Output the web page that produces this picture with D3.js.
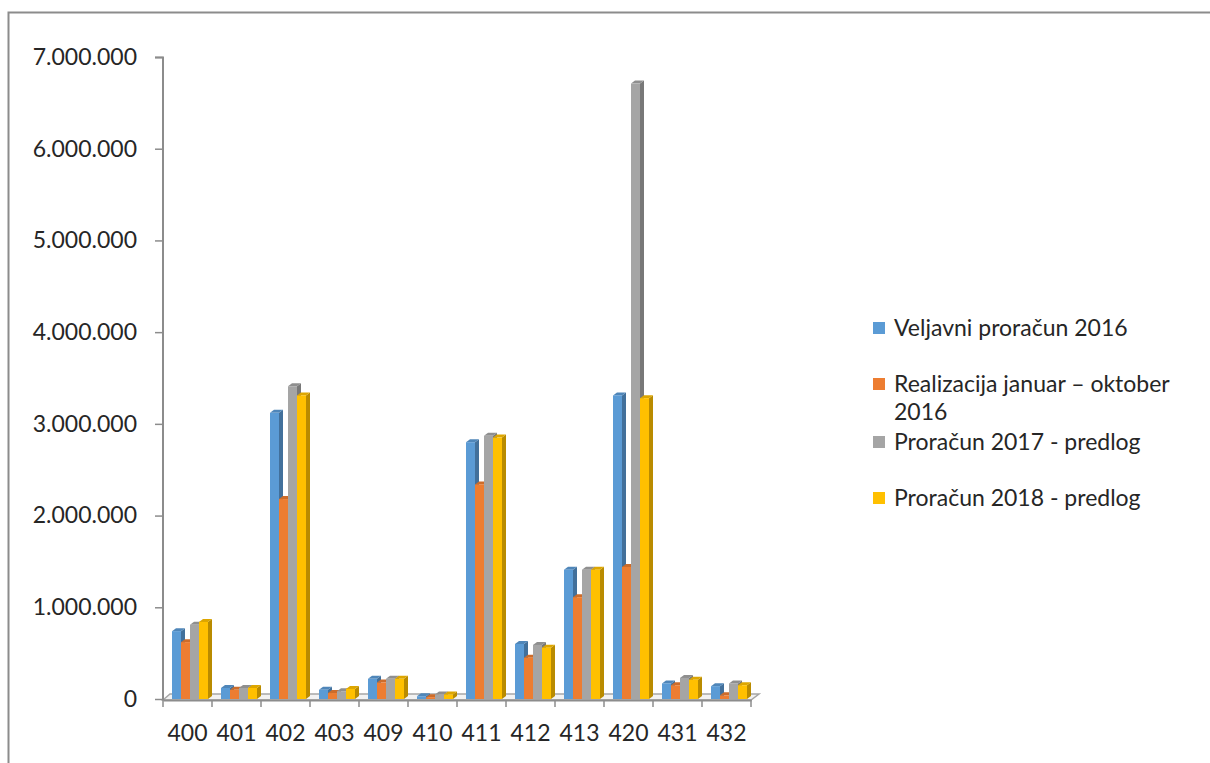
<!DOCTYPE html>
<html>
<head>
<meta charset="utf-8">
<script src="https://cdn.jsdelivr.net/npm/d3@7"></script>
<style>
  body { margin: 0; background: #fff; }
  text { font-family: Lato, "Open Sans", sans-serif; fill: #262626; }
</style>
</head>
<body>
<div class="viz"></div>
<script>
var categories = ["400", "401", "402", "403", "409", "410", "411", "412", "413", "420", "431", "432"];
var seriesNames = ["Veljavni proračun 2016", "Realizacija januar – oktober 2016", "Proračun 2017 - predlog", "Proračun 2018 - predlog"];
var veljavni2016 = [740000, 120000, 3120000, 100000, 220000, 30000, 2800000, 600000, 1410000, 3310000, 170000, 140000];
var realizacija2016 = [620000, 100000, 2180000, 65000, 180000, 20000, 2340000, 450000, 1110000, 1440000, 150000, 40000];
var proracun2017 = [810000, 120000, 3410000, 85000, 220000, 50000, 2870000, 590000, 1410000, 6710000, 230000, 170000];
var proracun2018 = [840000, 120000, 3310000, 110000, 220000, 50000, 2850000, 560000, 1410000, 3280000, 210000, 150000];
var yTicks = [0, 1000000, 2000000, 3000000, 4000000, 5000000, 6000000, 7000000];

var colors = ["#5B9BD5", "#ED7D31", "#A5A5A5", "#FFC000"];
var allSeries = [veljavni2016, realizacija2016, proracun2017, proracun2018];

var width = 1210, height = 763;
var depthX = 4, depthY = 3;

var svg = d3.select(".viz").append("svg")
    .attr("width", width)
    .attr("height", height);

// outer frame (only top and left visible)
svg.append("path")
    .attr("d", "M8.5,763 V12.5 H1210")
    .attr("fill", "none")
    .attr("stroke", "#8c8c8c")
    .attr("stroke-width", 2);

var nl = d3.formatLocale({decimal: ",", thousands: ".", grouping: [3], currency: ["", ""]});
var fmt = nl.format(",");

var x0 = d3.scaleBand().domain(categories).range([163, 751]);
var x1 = d3.scaleBand().domain(d3.range(4)).range([9, 45]);
var y = d3.scaleLinear().domain([0, 7000000]).range([699, 57]);

// floor
svg.append("path")
    .attr("d", "M163,700 L" + (163 + depthX + 3) + "," + (700 - depthY - 3) +
        " L" + (751 + depthX + 4) + "," + (700 - depthY - 3) + " L751,700 Z")
    .attr("fill", "#f2f2f2")
    .attr("stroke", "#a6a6a6")
    .attr("stroke-width", 1.5);

// y axis
var yAxis = d3.axisLeft(y).tickValues(yTicks).tickFormat(fmt).tickSize(8).tickPadding(18);
var gy = svg.append("g").attr("transform", "translate(163,0)").call(yAxis);
gy.select(".domain").attr("stroke", "#8c8c8c").attr("stroke-width", 2).attr("d", "M-8,57.5H0V700");
gy.selectAll(".tick line").attr("stroke", "#8c8c8c").attr("stroke-width", 1.5);
gy.selectAll(".tick text").style("font-size", "23px").attr("fill", "#262626");

// x axis
var xAxis = d3.axisBottom(x0).tickSize(0).tickPadding(25);
var gx = svg.append("g").attr("transform", "translate(0,700)").call(xAxis);
gx.select(".domain").attr("stroke", "#8c8c8c").attr("stroke-width", 2);
gx.selectAll(".tick text").style("font-size", "23px").attr("fill", "#262626");
gx.selectAll(".sep").data(d3.range(categories.length + 1)).enter().append("line")
    .attr("x1", function(i) { return 163 + i * x0.bandwidth(); })
    .attr("x2", function(i) { return 163 + i * x0.bandwidth(); })
    .attr("y1", 0).attr("y2", 7)
    .attr("stroke", "#8c8c8c").attr("stroke-width", 1.5);

// 3d bars
var bw = x1.bandwidth();
var barData = [];
categories.forEach(function(c, ci) {
    allSeries.forEach(function(s, si) {
        barData.push({cat: c, si: si, value: s[ci]});
    });
});

var bars = svg.append("g").selectAll("g").data(barData).enter().append("g");

bars.append("path") // side face
    .attr("d", function(d) {
        var xl = x0(d.cat) + x1(d.si) + bw, yt = y(d.value), yb = y(0);
        return "M" + xl + "," + yt + "L" + (xl + depthX) + "," + (yt - depthY) +
            "L" + (xl + depthX) + "," + (yb - depthY) + "L" + xl + "," + yb + "Z";
    })
    .attr("fill", function(d) { return d3.color(colors[d.si]).darker(0.9); });

bars.append("path") // top face
    .attr("d", function(d) {
        var xl = x0(d.cat) + x1(d.si), yt = y(d.value);
        return "M" + xl + "," + yt + "L" + (xl + depthX) + "," + (yt - depthY) +
            "L" + (xl + bw + depthX) + "," + (yt - depthY) + "L" + (xl + bw) + "," + yt + "Z";
    })
    .attr("fill", function(d) { return d3.color(colors[d.si]).darker(0.4); });

bars.append("rect") // front face
    .attr("x", function(d) { return x0(d.cat) + x1(d.si); })
    .attr("y", function(d) { return y(d.value); })
    .attr("width", bw)
    .attr("height", function(d) { return y(0) - y(d.value); })
    .attr("fill", function(d) { return colors[d.si]; });

// legend
var legendY = [328, 384, 442, 498];
var legend = svg.append("g").selectAll("g").data(seriesNames).enter().append("g")
    .attr("transform", function(d, i) { return "translate(873," + legendY[i] + ")"; });

legend.append("rect")
    .attr("x", 0).attr("y", -6).attr("width", 12).attr("height", 12)
    .attr("fill", function(d, i) { return colors[i]; });

legend.append("text")
    .attr("x", 21).attr("y", 8)
    .style("font-size", "23px")
    .each(function(d) {
        var t = d3.select(this);
        if (d.indexOf("oktober") > 0) {
            t.append("tspan").attr("x", 21).text("Realizacija januar – oktober");
            t.append("tspan").attr("x", 21).attr("dy", 28).text("2016");
        } else {
            t.text(d);
        }
    });
</script>
</body>
</html>
